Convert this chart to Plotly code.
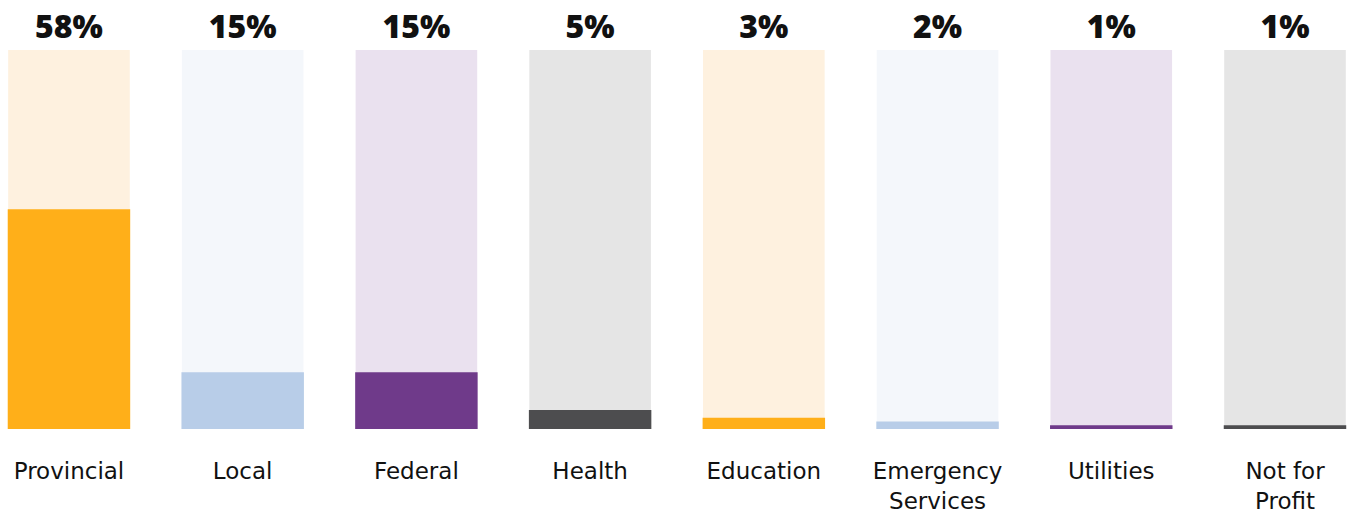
import plotly.graph_objects as go

categories = ["Provincial", "Local", "Federal", "Health", "Education",
              "Emergency<br>Services", "Utilities", "Not for<br>Profit"]
values = [58, 15, 15, 5, 3, 2, 1, 1]
full = [100] * len(categories)
pct_labels = ["58%", "15%", "15%", "5%", "3%", "2%", "1%", "1%"]

fg_colors = ["#FFAF19", "#B8CDE8", "#6F3A8A", "#4D4D4F"] * 2
bg_colors = ["#FEF1DF", "#F4F7FB", "#EAE1EF", "#E5E5E5"] * 2

fig = go.Figure()
fig.add_trace(go.Bar(
    x=categories, y=full, marker=dict(color=bg_colors, line=dict(width=0)),
    width=0.70, text=pct_labels, textposition="outside",
    textfont=dict(family="Open Sans", size=32, color="#111111", weight=800),
    cliponaxis=False, hoverinfo="skip", showlegend=False,
))
fig.add_trace(go.Bar(
    x=categories, y=values, marker=dict(color=fg_colors, line=dict(width=0)),
    width=0.705, showlegend=False,
))

fig.update_layout(
    barmode="overlay",
    width=1351, height=513,
    margin=dict(l=0, r=0, t=50, b=84),
    plot_bgcolor="white", paper_bgcolor="white",
)
fig.update_xaxes(
    type="category", range=[-0.397, 7.38], showgrid=False, zeroline=False,
    showline=False, ticks="", ticklabelstandoff=26,
    tickfont=dict(family="DejaVu Sans", size=23, color="#111111"),
)
fig.update_yaxes(range=[0, 100], visible=False)

fig.write_html("out.html", config={"displayModeBar": False},
               post_script="document.body.style.margin='0';document.body.style.overflow='hidden';")
